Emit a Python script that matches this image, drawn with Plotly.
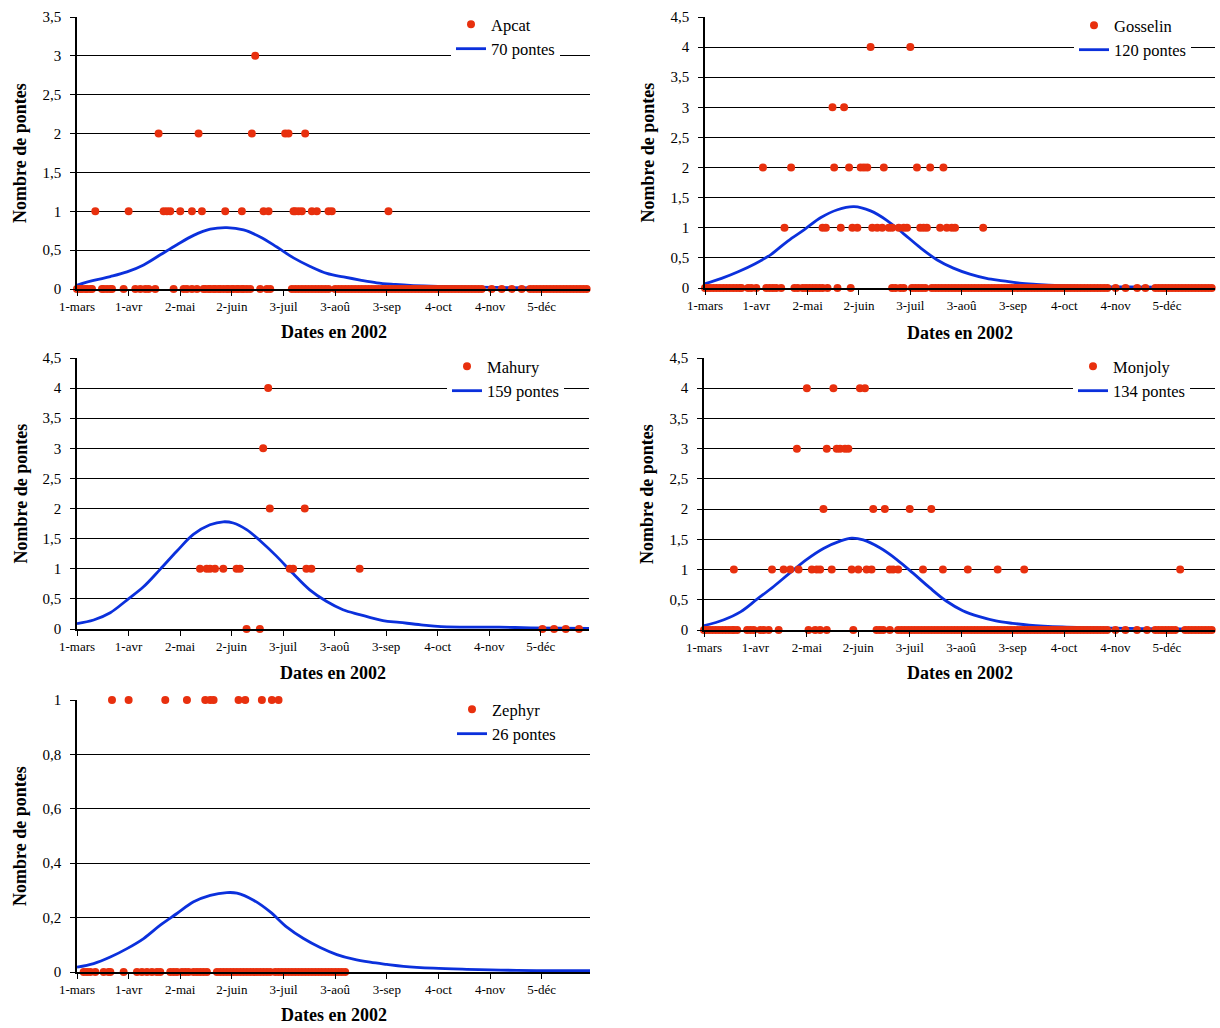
import pandas as pd
import plotly.graph_objects as go

SEASON_START = pd.Timestamp("2002-03-01")

tick_dates = ["2002-03-01", "2002-04-01", "2002-05-02", "2002-06-02", "2002-07-03",
              "2002-08-03", "2002-09-03", "2002-10-04", "2002-11-04", "2002-12-05"]
tick_labels = ["1-mars", "1-avr", "2-mai", "2-juin", "3-juil",
               "3-aoû", "3-sep", "4-oct", "4-nov", "5-déc"]

# Survey days (days after 1 March 2002), grouped by the number of nests counted that day
apcat_n0 = [0, 2, 3, 5, 6, 8, 9, 15, 16, 18, 20, 21, 28, 35, 38, 41, 43, 47, 58, 64, 66, 69, 72,
            76, 77, 79, 80, 82, 83, 85, 86, 88, 90, 91, 93, 94, 96, 97, 99, 100, 102, 104, 110,
            114, 116, 129, 131, 133, 135, 137, 139, 141, 143, 145, 147, 149, 151, 155, 157, 159,
            161, 163, 165, 167, 169, 171, 173, 175, 177, 179, 181, 183, 185, 187, 189, 191, 193,
            195, 197, 199, 201, 203, 205, 207, 209, 211, 213, 215, 217, 219, 221, 223, 225, 227,
            229, 231, 233, 235, 237, 239, 241, 243, 249, 255, 261, 267, 272, 274, 276, 278, 280,
            282, 284, 286, 288, 290, 292, 294, 296, 298, 300, 302, 304, 306]
apcat_n1 = [11, 31, 52, 54, 56, 62, 69, 75, 89, 99, 112, 115, 130, 131, 133, 135, 141, 144, 151,
            153, 187]
apcat_n2 = [49, 73, 105, 125, 127, 137]
apcat_n3 = [107]

gosselin_n0 = [0, 1, 3, 5, 7, 9, 11, 13, 15, 17, 19, 21, 22, 26, 28, 31, 37, 39, 41, 43, 46, 54,
               56, 59, 61, 63, 65, 67, 69, 71, 74, 80, 88, 113, 115, 118, 120, 125, 127, 129, 131,
               133, 137, 139, 141, 143, 145, 147, 149, 151, 153, 155, 157, 159, 161, 163, 165, 167,
               169, 171, 173, 175, 177, 179, 181, 183, 185, 187, 189, 191, 193, 195, 197, 199, 201,
               203, 205, 207, 209, 211, 213, 215, 217, 219, 221, 223, 225, 227, 229, 231, 233, 235,
               237, 239, 241, 243, 248, 254, 261, 266, 272, 274, 276, 278, 280, 282, 284, 286, 288,
               290, 292, 294, 296, 298, 300, 302, 304, 306]
gosselin_n1 = [48, 71, 73, 82, 89, 92, 101, 104, 107, 111, 113, 117, 120, 122, 130, 132, 134, 142,
               146, 149, 151, 168]
gosselin_n2 = [35, 52, 78, 87, 94, 96, 98, 108, 128, 136, 144]
gosselin_n3 = [77, 84]
gosselin_n4 = [100, 124]

mahury_n0 = [102, 110, 280, 287, 294, 302]
mahury_n1 = [74, 78, 80, 83, 88, 96, 98, 128, 130, 138, 141, 170]
mahury_n2 = [116, 137]
mahury_n3 = [112]
mahury_n4 = [115]

monjoly_n0 = [0, 1, 3, 5, 7, 9, 11, 13, 15, 17, 18, 20, 26, 28, 30, 34, 36, 39, 45, 63, 67, 70,
              74, 90, 104, 106, 108, 112, 117, 119, 121, 123, 125, 127, 129, 131, 133, 135, 137,
              139, 141, 143, 145, 147, 149, 151, 153, 155, 157, 159, 161, 163, 165, 167, 169, 171,
              173, 175, 177, 179, 181, 183, 185, 187, 189, 191, 193, 195, 197, 199, 201, 203, 205,
              207, 209, 211, 213, 215, 217, 219, 221, 223, 225, 227, 229, 231, 233, 235, 237, 239,
              241, 243, 248, 254, 261, 267, 272, 274, 276, 278, 280, 282, 284, 290, 292, 294, 296,
              298, 300, 302, 304, 306]
monjoly_n1 = [18, 41, 48, 52, 57, 65, 68, 70, 77, 89, 93, 98, 101, 112, 114, 117, 132, 144, 159,
              177, 193, 287]
monjoly_n2 = [72, 102, 109, 124, 137]
monjoly_n3 = [56, 74, 80, 82, 85, 87]
monjoly_n4 = [62, 78, 94, 97]

zephyr_n0 = [4, 6, 8, 11, 16, 19, 20, 28, 36, 39, 42, 45, 48, 50, 56, 58, 60, 63, 65, 67, 70, 72,
             74, 76, 78, 84, 86, 88, 90, 92, 94, 96, 98, 100, 102, 104, 106, 108, 110, 112, 114,
             116, 119, 121, 123, 125, 127, 129, 131, 133, 135, 137, 139, 141, 143, 145, 147, 149,
             151, 153, 155, 157, 159, 161]
zephyr_n1 = [21, 31, 53, 66, 77, 80, 82, 97, 101, 111, 117, 121]

# Fitted seasonal laying curves (day after 1 March, expected nests per day)
apcat_fit_days = [0, 10, 20, 30, 40, 50, 60, 70, 80, 90, 100, 110, 120, 130, 140, 150, 160, 170,
                  180, 190, 200, 220, 250, 280, 308]
apcat_fit_vals = [0.05, 0.11, 0.16, 0.22, 0.31, 0.44, 0.57, 0.69, 0.77, 0.79, 0.76, 0.67, 0.54,
                  0.40, 0.29, 0.20, 0.155, 0.115, 0.08, 0.06, 0.045, 0.035, 0.02, 0.015, 0.01]

gosselin_fit_days = [0, 10, 20, 30, 40, 50, 60, 70, 80, 90, 100, 110, 120, 130, 140, 150, 160,
                     170, 180, 190, 200, 215, 245, 275, 308]
gosselin_fit_vals = [0.07, 0.16, 0.27, 0.40, 0.56, 0.78, 0.97, 1.17, 1.30, 1.35, 1.28, 1.12, 0.90,
                     0.67, 0.47, 0.33, 0.23, 0.16, 0.12, 0.08, 0.06, 0.04, 0.02, 0.015, 0.01]

mahury_fit_days = [0, 10, 20, 30, 40, 50, 60, 70, 80, 88, 94, 102, 110, 120, 130, 140, 150, 160,
                   170, 184, 194, 207, 219, 254, 273, 308]
mahury_fit_vals = [0.09, 0.15, 0.27, 0.48, 0.70, 0.99, 1.29, 1.57, 1.73, 1.78, 1.76, 1.65, 1.47,
                   1.21, 0.92, 0.65, 0.46, 0.32, 0.24, 0.14, 0.11, 0.07, 0.04, 0.03, 0.02, 0.01]

monjoly_fit_days = [0, 12, 22, 32, 42, 52, 62, 72, 82, 89, 96, 106, 116, 126, 136, 146, 156, 166,
                    176, 186, 196, 216, 246, 286, 308]
monjoly_fit_vals = [0.07, 0.17, 0.30, 0.51, 0.72, 0.95, 1.17, 1.35, 1.47, 1.52, 1.49, 1.36, 1.17,
                    0.94, 0.70, 0.48, 0.32, 0.22, 0.15, 0.11, 0.08, 0.05, 0.03, 0.02, 0.015]

zephyr_fit_days = [0, 10, 20, 30, 40, 50, 60, 70, 80, 90, 96, 106, 116, 126, 136, 146, 156, 166,
                   176, 186, 196, 214, 234, 264, 308]
zephyr_fit_vals = [0.018, 0.031, 0.055, 0.086, 0.123, 0.172, 0.215, 0.258, 0.282, 0.292, 0.29,
                   0.264, 0.221, 0.165, 0.123, 0.09, 0.064, 0.047, 0.036, 0.028, 0.021, 0.014,
                   0.01, 0.006, 0.005]

site_names = ["Apcat", "Gosselin", "Mahury", "Monjoly", "Zephyr"]
site_totals = ["70 pontes", "120 pontes", "159 pontes", "134 pontes", "26 pontes"]
site_counts = [
    [apcat_n0, apcat_n1, apcat_n2, apcat_n3],
    [gosselin_n0, gosselin_n1, gosselin_n2, gosselin_n3, gosselin_n4],
    [mahury_n0, mahury_n1, mahury_n2, mahury_n3, mahury_n4],
    [monjoly_n0, monjoly_n1, monjoly_n2, monjoly_n3, monjoly_n4],
    [zephyr_n0, zephyr_n1],
]
site_fits = [
    (apcat_fit_days, apcat_fit_vals),
    (gosselin_fit_days, gosselin_fit_vals),
    (mahury_fit_days, mahury_fit_vals),
    (monjoly_fit_days, monjoly_fit_vals),
    (zephyr_fit_days, zephyr_fit_vals),
]
y_max = [3.5, 4.5, 4.5, 4.5, 1.0]
y_step = [0.5, 0.5, 0.5, 0.5, 0.2]

# ---- layout (pixel geometry of a 1220 x 1028 page) ----
W, H = 1220, 1028
plot_boxes = [  # left, right, top, bottom in pixels
    (77, 590, 17, 289),
    (705, 1215, 17, 288),
    (77, 589, 358, 629),
    (704, 1215, 358, 630),
    (77, 590, 700, 972),
]
legend_corners = [(451, 7), (1074, 8), (447, 349), (1073, 349), (452, 692)]
ytitle_x = [20, 647, 20, 647, 20]
xtitle_y = [332, 333, 673, 673, 1015]

SERIF = "Liberation Serif, Times New Roman, serif"
RED = "#E8300E"
BLUE = "#0B30DC"


def to_dates(days):
    return SEASON_START + pd.to_timedelta(days, unit="D")


fig = go.Figure()
annotations = []
layout_axes = {}

for i, name in enumerate(site_names):
    k = "" if i == 0 else str(i + 1)
    xa, ya = "x" + k, "y" + k
    leg = "legend" + k

    days, counts = [], []
    for n, day_list in enumerate(site_counts[i]):
        days += day_list
        counts += [n] * len(day_list)

    fit_days, fit_vals = site_fits[i]
    fig.add_trace(go.Scatter(
        x=to_dates(fit_days), y=fit_vals, mode="lines", name=site_totals[i],
        line=dict(color=BLUE, width=2.8, shape="spline", smoothing=1.0),
        xaxis=xa, yaxis=ya, legend=leg, cliponaxis=False, hoverinfo="skip"))
    fig.add_trace(go.Scatter(
        x=to_dates(days), y=counts, mode="markers", name=name,
        marker=dict(color=RED, size=8, symbol="circle", line=dict(width=0)),
        xaxis=xa, yaxis=ya, legend=leg, cliponaxis=False))

    l, r, t, b = plot_boxes[i]
    layout_axes["xaxis" + k] = dict(
        domain=[l / W, r / W], anchor=ya, type="date",
        range=["2002-03-01", "2003-01-03"],
        tickmode="array", tickvals=tick_dates, ticktext=tick_labels,
        ticks="outside", ticklen=5, tickwidth=1, tickcolor="black",
        tickfont=dict(family=SERIF, size=13, color="black"),
        showgrid=False, zeroline=False, showline=True, linecolor="black", linewidth=1.5)
    layout_axes["yaxis" + k] = dict(
        domain=[1 - b / H, 1 - t / H], anchor=xa,
        range=[0, y_max[i]], dtick=y_step[i], tick0=0,
        ticks="outside", ticklen=5, tickwidth=1, tickcolor="black",
        ticklabelstandoff=6,
        tickfont=dict(family=SERIF, size=15, color="black"),
        showgrid=True, gridcolor="black", gridwidth=1.3,
        zeroline=False, showline=True, linecolor="black", linewidth=1.5)

    lx, ly = legend_corners[i]
    layout_axes[leg] = dict(
        x=lx / W, y=1 - ly / H, xanchor="left", yanchor="top",
        bgcolor="white", borderwidth=0, traceorder="reversed",
        font=dict(family=SERIF, size=16.5, color="black"))

    annotations.append(dict(
        text="<b>Nombre de pontes</b>", textangle=-90, showarrow=False,
        xref="paper", yref="paper", x=ytitle_x[i] / W, y=1 - (t + b) / 2 / H,
        xanchor="center", yanchor="middle",
        font=dict(family=SERIF, size=18, color="black")))
    annotations.append(dict(
        text="<b>Dates en 2002</b>", showarrow=False,
        xref="paper", yref="paper", x=(l + r) / 2 / W, y=1 - xtitle_y[i] / H,
        xanchor="center", yanchor="middle",
        font=dict(family=SERIF, size=18, color="black")))

fig.update_layout(
    width=W, height=H,
    margin=dict(l=0, r=0, t=0, b=0, pad=0, autoexpand=False),
    paper_bgcolor="white", plot_bgcolor="white",
    separators=", ", showlegend=True,
    annotations=annotations, **layout_axes)

fig.write_html("out.html")
